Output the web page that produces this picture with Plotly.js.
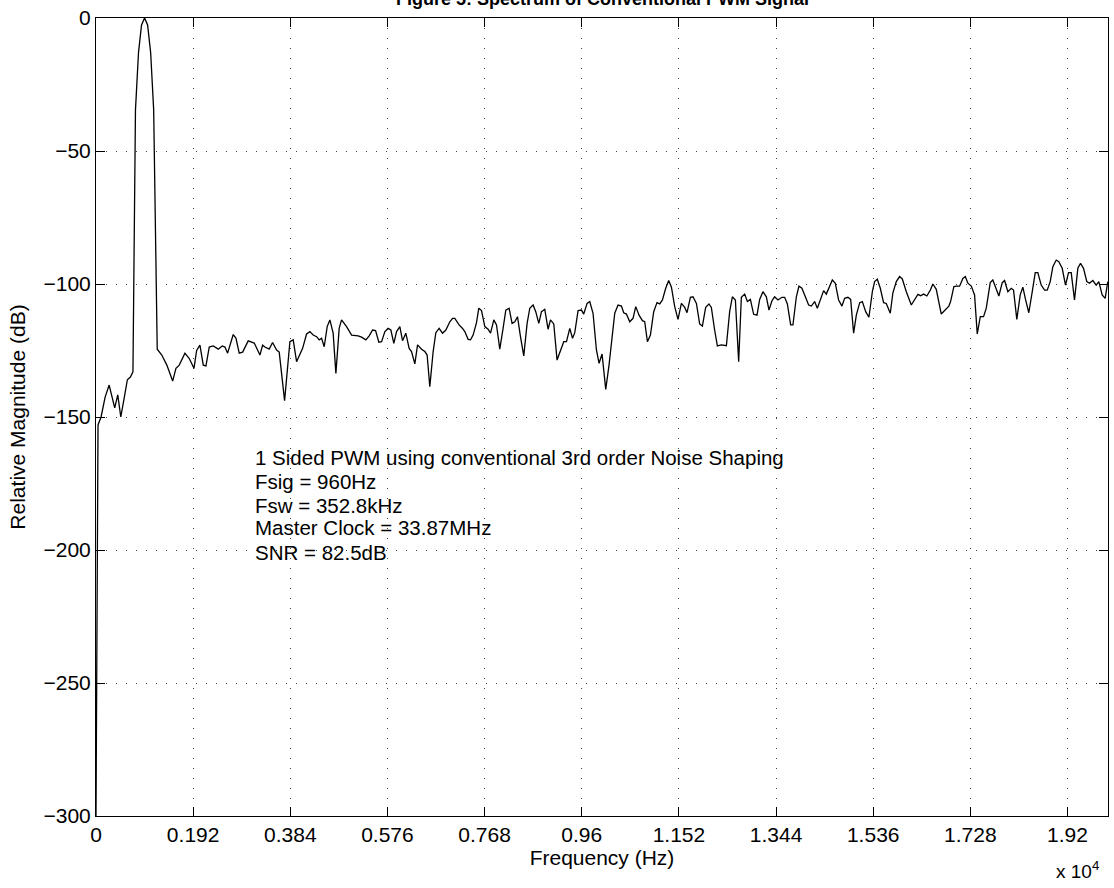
<!DOCTYPE html>
<html>
<head>
<meta charset="utf-8">
<script src="https://cdn.plot.ly/plotly-3.0.1.min.js"></script>
<style>html,body{margin:0;padding:0;background:#fff;}#chart{width:1114px;height:888px;}</style>
</head>
<body>
<div id="chart"></div>
<script>
// Frequency (Hz) of each plotted spectrum point
const freqHz = [
  0, 40, 100, 180, 260, 370, 430, 490, 560, 620, 680, 730,
  780, 840, 900, 960, 1020, 1080, 1140, 1210,
  1300, 1400, 1515, 1580, 1645, 1758, 1843, 1936, 1989, 2054, 2120, 2173, 2238, 2317, 2416, 2495,
  2548, 2601, 2712, 2765, 2831, 2898, 3008, 3056, 3127, 3240, 3293, 3338, 3423, 3490, 3569, 3621,
  3727, 3832, 3897, 3964, 4083, 4162, 4227, 4292, 4360, 4411, 4458, 4510, 4569, 4622, 4687, 4741,
  4806, 4853, 4952, 5051, 5181, 5248, 5333, 5399, 5466, 5525, 5590, 5644, 5709, 5774, 5827, 5886,
  5940, 6005, 6058, 6123, 6189, 6236, 6301, 6355, 6434, 6499, 6544, 6597, 6663, 6716, 6781, 6848,
  6914, 6993, 7046, 7091, 7176, 7244, 7289, 7354, 7402, 7453, 7520, 7565, 7619, 7684, 7749, 7797,
  7862, 7915, 7980, 8045, 8099, 8164, 8223, 8277, 8330, 8389, 8454, 8520, 8573, 8638, 8691, 8751,
  8804, 8869, 8934, 8982, 9047, 9112, 9179, 9244, 9298,
  9363, 9417, 9462, 9527, 9594, 9639, 9705, 9758, 9823, 9890, 9942, 10001, 10074, 10139, 10198,
  10252, 10317, 10384, 10429, 10483, 10548, 10613, 10667, 10732, 10799, 10844, 10898, 10957, 11022,
  11087, 11141, 11194, 11259, 11318, 11372, 11437, 11502, 11569, 11635, 11680, 11747, 11798, 11866,
  11930, 11984, 12049, 12114, 12161, 12226, 12280, 12359, 12458, 12523, 12576, 12636, 12701, 12754,
  12820, 12873, 12932, 12997, 13063, 13116, 13181, 13248, 13300, 13359, 13412, 13477, 13556, 13610,
  13663, 13728, 13774, 13841, 13892, 13951, 14019, 14084, 14137, 14202, 14256, 14315, 14380, 14433,
  14485, 14552, 14611, 14676, 14742, 14795, 14860, 14914, 14973, 15026,
  15093, 15145, 15211, 15275, 15343, 15388, 15441, 15500, 15565, 15618, 15697, 15749, 15816, 15881,
  15935, 16014, 16113, 16178, 16243, 16296, 16355, 16420, 16488, 16539, 16606, 16705, 16790, 16855,
  16889, 16954, 17013, 17067, 17132, 17180, 17231, 17298, 17363, 17416, 17476, 17541, 17594, 17673,
  17724, 17791, 17843, 17910, 17956, 18021, 18088, 18133, 18198, 18265, 18317, 18370, 18435, 18503,
  18562, 18613, 18680, 18746, 18799, 18858, 18910, 18977, 19028, 19095, 19160, 19220, 19273, 19338,
  19404, 19457, 19516, 19581, 19634, 19700, 19767, 19818, 19885, 19944, 19996
];

// Relative magnitude (dB) at each point above
const magnitudeDb = [
  -300, -153, -150, -142.5, -138, -146.6, -141.7, -150, -142.5, -136, -135, -133,
  -34.6, -13, -2.6, 0, -2.6, -13, -34.6, -124.5,
  -126.7, -130.5, -136.5, -131.7, -130.5, -126, -128, -131.7, -125, -123, -130.5, -130.8, -123.7, -123.3, -124.5, -123.3,
  -123.7, -126, -119, -120.3, -126, -125.6, -121.4, -121.8, -122.2, -126.7, -123, -123.7, -124.5, -122, -124.8, -125.6,
  -143.9, -121.7, -121, -129.2, -124.2, -118.8, -117.9, -119.2, -119.8, -121, -120.4, -123.6, -116, -113.5, -118.5, -133.6,
  -116.7, -113.5, -116, -119.2, -119.5, -120, -121, -119.5, -117.3, -117.5, -121.9, -121.7, -117.9, -116.7, -117.3, -122.3,
  -117.9, -116, -121.3, -118.5, -124.2, -125.4, -130, -122.9, -124.5, -125.4, -126.7, -138.6, -125.4, -118.3, -116.7, -118.5,
  -117.3, -114.2, -112.9, -112.9, -115.4, -116.7, -117.9, -120.8, -121, -119.2, -114.5, -109.1, -110, -116, -117, -118.5,
  -113.5, -115.4, -124.5, -116.7, -109.8, -109.1, -114.8, -114.2, -112.3, -119.8, -127, -114.8, -109.1, -107.9, -110.4, -114.8,
  -110.4, -109.5, -117, -113.5, -115, -128.6, -124.8, -121.7, -121.7,
  -116.7, -120.4, -118.3, -110, -109.8, -111.3, -107.3, -106.6, -111, -124.8, -129.8, -126.3, -139.6, -130.5, -120.4,
  -111, -107.9, -108.3, -110.8, -111.3, -114.2, -112.9, -108.5, -111.7, -113.8, -114.2, -121.7, -119.2, -110.4,
  -107, -107.5, -106, -101.6, -98.7, -101.2, -108.5, -113.3, -107.3, -108.8, -110.8, -105, -104.8, -107.3,
  -115, -115.8, -108.8, -107.5, -108.8, -117.3, -123.3, -122.9, -123.2, -110.4, -104.8, -106, -129.2, -105,
  -103.8, -106.6, -105.8, -111.4, -111.7, -105.8, -102.9, -104.8, -109.8, -106.3, -104.8, -106, -105, -105,
  -107.5, -115.4, -115.4, -104.8, -100.8, -101.6, -104.8, -107.9, -108.3, -106.6, -109.1, -106, -102.5, -103.8,
  -101.6, -98.5, -99.7, -106, -108.3, -105.4, -105, -105.8, -118.5, -111.7,
  -107, -106.6, -110.4, -112.5, -102.9, -99.1, -98.2, -101.6, -107, -107.3, -111, -103.3, -99.1, -97.2,
  -98.1, -102.9, -107.9, -106, -103.9, -104.4, -103.8, -104.5, -102.3, -100, -102, -111.3, -109.8, -108.3,
  -106.6, -101, -100.8, -100.8, -97.9, -97.2, -99.7, -100.8, -104.1, -118.8, -112.3, -112.3, -109.1, -99.5,
  -98.5, -102.3, -104.5, -99.5, -98.7, -102.9, -101.6, -102.3, -113.3, -104.1, -101.2, -105.8, -110.8, -102.9,
  -95.7, -95.7, -100.4, -102.3, -102.3, -99.1, -93.5, -91, -91.6, -94.1, -100.4, -95.7, -95.7, -106,
  -94.1, -92.2, -94.1, -99.1, -99.7, -98.7, -100.4, -99.1, -104.1, -105.4, -99.1
];

// Tick values and labels
const xTickVals = [0, 1920, 3840, 5760, 7680, 9600, 11520, 13440, 15360, 17280, 19200];
const xTickText = ['0', '0.192', '0.384', '0.576', '0.768', '0.96', '1.152', '1.344', '1.536', '1.728', '1.92'];
const yTickVals = [0, -50, -100, -150, -200, -250, -300];

// Text
const titleText = 'Figure 5: Spectrum of Conventional PWM Signal';
const xTitle = 'Frequency (Hz)';
const yTitle = 'Relative Magnitude (dB)';
const noteLines = [
  '1 Sided PWM using conventional 3rd order Noise Shaping',
  'Fsig = 960Hz',
  'Fsw = 352.8kHz',
  'Master Clock = 33.87MHz',
  'SNR = 82.5dB'
];
const noteY = [-165.4, -174.1, -183.1, -191.7, -200.8];
const noteX = 3100;
const exponentText = 'x 10<sup>4</sup>';

const FONT = 'Arial, "Liberation Sans", Helvetica, sans-serif';

const trace = {
  x: freqHz,
  y: magnitudeDb,
  type: 'scatter',
  mode: 'lines',
  line: {color: '#000', width: 1.3},
  hoverinfo: 'skip'
};

const annotations = noteLines.map((t, i) => ({
  text: t, x: noteX, y: noteY[i], xref: 'x', yref: 'y',
  xanchor: 'left', yanchor: 'middle', showarrow: false,
  font: {family: FONT, size: 20.5, color: '#000'}
}));
annotations.push({
  text: exponentText, xref: 'paper', yref: 'paper', x: 0.993, y: 0, yshift: -40,
  xanchor: 'right', yanchor: 'top', showarrow: false,
  font: {family: FONT, size: 19, color: '#000'}
});
// title, partially clipped by the top edge as in the reference
annotations.push({
  text: '<b>' + titleText + '</b>', xref: 'paper', yref: 'paper', x: 0.5, y: 1, yshift: 19,
  xanchor: 'center', yanchor: 'middle', showarrow: false,
  font: {family: FONT, size: 18, color: '#000'}
});

const axisCommon = {
  showline: true, linecolor: '#000', linewidth: 1, mirror: 'ticks',
  ticks: 'inside', ticklen: 9, tickcolor: '#000', tickwidth: 1,
  showgrid: true, gridcolor: '#444', gridwidth: 1, griddash: '1px,9px',
  zeroline: false,
  tickfont: {family: FONT, size: 21, color: '#000'},
  automargin: false
};

const layout = {
  width: 1114, height: 888,
  paper_bgcolor: '#fff', plot_bgcolor: '#fff',
  margin: {l: 96, r: 6, t: 18, b: 72},
  showlegend: false,
  xaxis: Object.assign({}, axisCommon, {
    range: [0, 20000],
    tickmode: 'array', tickvals: xTickVals, ticktext: xTickText,
    title: {text: xTitle, font: {family: FONT, size: 21, color: '#000'}, standoff: 4}
  }),
  yaxis: Object.assign({}, axisCommon, {
    range: [-300, 0],
    tickmode: 'array', tickvals: yTickVals,
    title: {text: yTitle, font: {family: FONT, size: 21, color: '#000'}, standoff: 12}
  }),
  annotations: annotations
};

Plotly.newPlot('chart', [trace], layout, {staticPlot: true, displayModeBar: false});
</script>
</body>
</html>
